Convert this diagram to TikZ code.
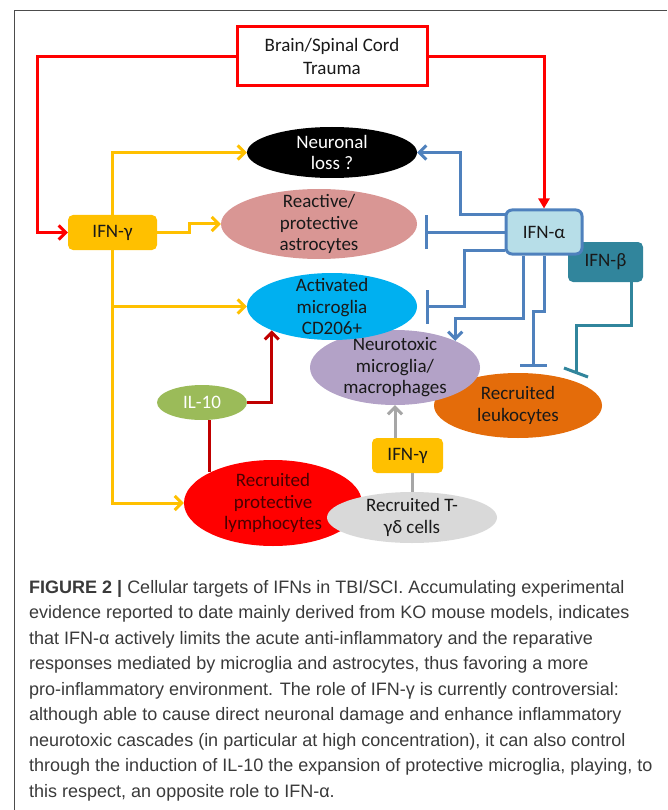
\documentclass[tikz,border=0pt]{standalone}
\usepackage{fontspec}
\setmainfont{Carlito}
\newfontfamily\capfont{Liberation Sans}
\usetikzlibrary{arrows.meta,positioning,shapes.geometric}

\newcommand\MYlbl{\fontsize{19}{21.5}\selectfont}
\newcommand\MYcap{\capfont\fontsize{18}{25.5}\selectfont}

\definecolor{trred}{HTML}{FF0000}
\definecolor{gamyel}{HTML}{FFC000}
\definecolor{alfblue}{HTML}{4F81BD}
\definecolor{alffill}{HTML}{B7DEE8}
\definecolor{betteal}{HTML}{31859C}
\definecolor{astpink}{HTML}{D99694}
\definecolor{micblue}{HTML}{00B0F0}
\definecolor{neulil}{HTML}{B3A2C7}
\definecolor{leuorg}{HTML}{E46C0A}
\definecolor{ilgreen}{HTML}{9BBB59}
\definecolor{ildark}{HTML}{C00000}
\definecolor{lymtxt}{HTML}{4A0000}
\definecolor{tdgray}{HTML}{D9D9D9}
\definecolor{arrgray}{HTML}{A6A6A6}
\definecolor{captxt}{HTML}{3A3A3A}

\begin{document}
\begin{tikzpicture}[x=1pt,y=-1pt,
  lbl/.style={font=\MYlbl, align=center, text=black!90, inner sep=0pt},
  cell/.style={ellipse, draw=none, inner sep=0pt},
  ifnbox/.style={rectangle, rounded corners=5pt, font=\MYlbl, text=black!90},
  open/.style={-{Straight Barb[length=7pt,width=14pt]}},
  stop/.style={-{Bar[width=#1]}},
  redline/.style={draw=trred, line width=3pt},
  yelline/.style={draw=gamyel, line width=3pt, open},
  bluline/.style={draw=alfblue, line width=3pt},
  tealine/.style={draw=betteal, line width=3pt}]

\useasboundingbox (0,0) rectangle (667,810);
\draw[black!70, line width=1.2pt] (14.5,810) -- (14.5,10.5) -- (667,10.5);

% cells and cytokines
\node[lbl, draw=trred, line width=3pt, fill=white, minimum width=190pt, minimum height=59pt,
  font=\fontsize{19}{23}\selectfont] (trauma) at (332,56.5) {Brain/Spinal Cord\\Trauma};
\node[ifnbox, fill=gamyel, minimum width=89pt, minimum height=35pt] (ifng) at (112.5,232.5) {IFN-γ};
\node[cell, fill=black, minimum width=170pt, minimum height=51pt,
  label={[lbl, text=white]center:Neuronal\\loss ?}] (neuron) at (332,152.5) {};
\node[cell, fill=astpink, minimum width=196pt, minimum height=70pt,
  label={[lbl]center:Reactive/\\protective\\astrocytes}] (astro) at (319,224) {};
\node[cell, fill=leuorg, minimum width=168pt, minimum height=65pt,
  label={[lbl]center:Recruited\\leukocytes}] (leuko) at (518,405.5) {};
\node[cell, fill=neulil, minimum width=170pt, minimum height=75pt,
  label={[lbl]center:Neurotoxic\\microglia/\\macrophages}] (neurotox) at (395,367.5) {};
\node[cell, fill=micblue, minimum width=170pt, minimum height=67pt,
  label={[lbl]center:Activated\\microglia\\CD206+}] (actmic) at (332,306.5) {};
\node[cell, fill=ilgreen, minimum width=90pt, minimum height=35pt,
  label={[lbl, text=white]center:IL-10}] (il10) at (202,402.5) {};
\node[cell, fill=trred, minimum width=178pt, minimum height=86pt,
  label={[lbl, text=lymtxt]center:Recruited\\protective\\lymphocytes}] (lymph) at (273,503) {};
\node[cell, fill=tdgray, minimum width=170pt, minimum height=51pt,
  label={[lbl]center:Recruited T-\\γδ cells}] (tgd) at (412,517.5) {};
\node[ifnbox, fill=gamyel, minimum width=71pt, minimum height=35pt] (ifng2) at (407.5,455.5) {IFN-γ};
\node[ifnbox, fill=betteal, minimum width=75pt, minimum height=40pt] (ifnb) at (605.5,262) {IFN-β};
\node[ifnbox, fill=alffill, draw=alfblue, line width=3pt, rounded corners=6pt,
  minimum width=76pt, minimum height=44pt] (ifna) at (544,232) {IFN-α};

\coordinate (astrobar) at ([xshift=8pt]astro.east);
\coordinate (micbar) at ([xshift=9pt]actmic.east);
\coordinate (leukobar) at ([xshift=15pt,yshift=6pt]leuko.north);
\coordinate (betabar) at ([shift={(58,-33)}]leuko.center);

% trauma
\draw[redline, open] (trauma.west) -- ++(-198,0) |- (ifng.west);
\draw[redline, -{Triangle[length=10pt,width=11pt]}] (trauma.east) -| (ifna.north);

% IFN-gamma
\draw[yelline] (ifng.north) |- (neuron.west);
\draw[yelline] (ifng.east) -- ++(32,0) |- (astro.west);
\draw[yelline] (ifng.south) |- (actmic.west);
\draw[yelline] (ifng.south) |- (lymph.west);

% IFN-alpha
\draw[bluline, open] ([yshift=17pt]ifna.west) -- ++(-44,0) |- (neuron.east);
\draw[bluline, stop=34pt] (ifna.west) -- (astrobar |- ifna.west);
\draw[bluline, stop=34pt] ([yshift=-18pt]ifna.west) -- ++(-40,0) |- (micbar);
\draw[bluline, open] ([xshift=-21pt]ifna.south) -- ++(0,63) -| (neurotox.north east);
\draw[bluline, stop=27pt] (ifna.south) -- ++(0,56) -| (leukobar);

% IFN-beta
\draw[tealine] ([xshift=25.5pt]ifnb.south) -- ++(0,43) -| (betabar);
\draw[tealine] ([shift={(-12,-4.5)}]betabar) -- ([shift={(12,4.5)}]betabar);

% IL-10 and T cells
\draw[draw=ildark, line width=3pt] (il10.south -| lymph.north west) -- (lymph.north west);
\draw[draw=ildark, line width=3pt, open] (il10.east) -| (actmic.south west);
\draw[draw=arrgray, line width=3pt, open] (ifng2.north -| neurotox.south) -- (neurotox.south);
\draw[draw=arrgray, line width=3pt] (ifng2.south -| tgd.north) -- (tgd.north);

\node[font=\MYcap, text=captxt, align=left, inner sep=0pt, anchor=north west] (caption) at (29,580)
{{\bfseries FIGURE 2 |} Cellular targets of IFNs in TBI/SCI. Accumulating experimental\\
evidence reported to date mainly derived from KO mouse models, indicates\\
that IFN-α actively limits the acute anti-inflammatory and the reparative\\
responses mediated by microglia and astrocytes, thus favoring a more\\
pro-inflammatory environment. The role of IFN-γ is currently controversial:\\
although able to cause direct neuronal damage and enhance inflammatory\\
neurotoxic cascades (in particular at high concentration), it can also control\\
through the induction of IL-10 the expansion of protective microglia, playing, to\\
this respect, an opposite role to IFN-α.};

\end{tikzpicture}
\end{document}
